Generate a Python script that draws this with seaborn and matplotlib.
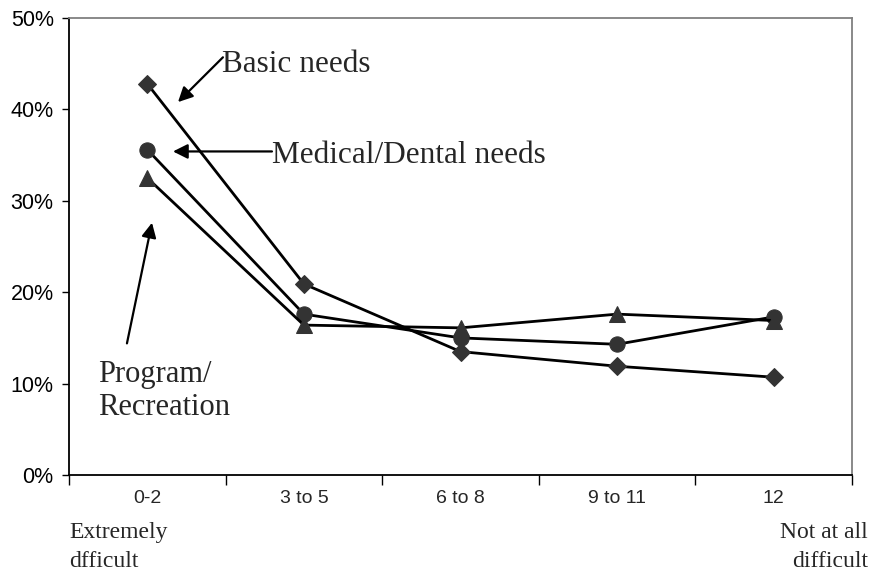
import matplotlib
matplotlib.use("Agg")
import matplotlib.pyplot as plt
import seaborn as sns
import pandas as pd
from matplotlib.ticker import PercentFormatter, FixedLocator, NullFormatter

# Ratings of how difficult it is to meet each need (percent of respondents)
categories = ["0-2", "3 to 5", "6 to 8", "9 to 11", "12"]
basic_needs = [42.8, 20.9, 13.5, 11.9, 10.7]
medical_dental = [35.6, 17.6, 15.0, 14.3, 17.3]
program_recreation = [32.5, 16.4, 16.1, 17.6, 16.9]

series_names = ["Basic needs", "Medical/Dental needs", "Program/Recreation"]
series_values = [basic_needs, medical_dental, program_recreation]
series_markers = ["D", "o", "^"]
series_sizes = [9, 11, 11]

sns.set_theme(style="white")
plt.rcParams["font.family"] = ["Liberation Sans", "DejaVu Sans"]

fig = plt.figure(figsize=(8.7, 5.74), dpi=100)
ax = fig.add_axes([69 / 870, 1 - 475 / 574, (852 - 69) / 870, (475 - 18) / 574])

positions = list(range(len(categories)))
for name, vals, mk, ms in zip(series_names, series_values, series_markers, series_sizes):
    df = pd.DataFrame({"pos": positions, "value": vals})
    sns.lineplot(data=df, x="pos", y="value", ax=ax, color="black", linewidth=2,
                 marker=mk, markersize=ms, markerfacecolor="#333333",
                 markeredgecolor="#333333", sort=False, legend=False)

ax.set_xlim(-0.5, len(categories) - 0.5)
ax.set_ylim(0, 50)
ax.set_xlabel("")
ax.set_ylabel("")

# y axis: percent ticks every 10
ax.set_yticks([0, 10, 20, 30, 40, 50])
ax.yaxis.set_major_formatter(PercentFormatter(100, decimals=0))
ax.tick_params(axis="y", direction="out", length=5, width=1, colors="black",
               labelsize=15.5, pad=6, left=True)

# x axis: labels centred on categories, tick marks on category boundaries
ax.set_xticks(positions)
ax.set_xticklabels(categories)
ax.xaxis.set_minor_locator(FixedLocator([p - 0.5 for p in positions] + [positions[-1] + 0.5]))
ax.xaxis.set_minor_formatter(NullFormatter())
ax.tick_params(axis="x", which="major", length=0, labelsize=14, pad=11)
ax.tick_params(axis="x", which="minor", direction="out", length=7, width=1,
               color="black", bottom=True)

for side in ["left", "bottom"]:
    ax.spines[side].set_color("black")
    ax.spines[side].set_linewidth(1.3)
for side in ["top", "right"]:
    ax.spines[side].set_color("#808080")
    ax.spines[side].set_linewidth(1.3)
ax.grid(False)

serif = ["Liberation Serif", "DejaVu Serif"]
xaxis_tr = ax.get_xaxis_transform()

# scale-end descriptions below the first and last categories
ax.text(-0.5, -0.125, "Extremely", transform=xaxis_tr, ha="left", va="center",
        fontsize=17, family=serif)
ax.text(-0.5, -0.19, "dfficult", transform=xaxis_tr, ha="left", va="center",
        fontsize=17, family=serif)
ax.text(4.6, -0.125, "Not at all", transform=xaxis_tr, ha="right", va="center",
        fontsize=17, family=serif, clip_on=False)
ax.text(4.6, -0.19, "difficult", transform=xaxis_tr, ha="right", va="center",
        fontsize=17, family=serif, clip_on=False)

arrow = dict(arrowstyle="-|>", mutation_scale=22, lw=1.6, color="black",
             shrinkA=0, shrinkB=0)

ax.annotate("", xy=(0.196, 40.8), xytext=(0.483, 45.7), arrowprops=arrow)
ax.text(0.476, 44.9, "Basic needs", ha="left", va="center", fontsize=22.5,
        family=serif)

ax.annotate("", xy=(0.164, 35.4), xytext=(0.796, 35.4), arrowprops=arrow)
ax.text(0.796, 35.0, "Medical/Dental needs", ha="left", va="center",
        fontsize=22.5, family=serif)

ax.annotate("", xy=(0.030, 27.6), xytext=(-0.130, 14.4), arrowprops=arrow)
ax.text(-0.315, 9.2, "Program/\nRecreation", ha="left", va="center",
        fontsize=22, family=serif, linespacing=1.15)

fig.savefig("out.png", dpi=100)
